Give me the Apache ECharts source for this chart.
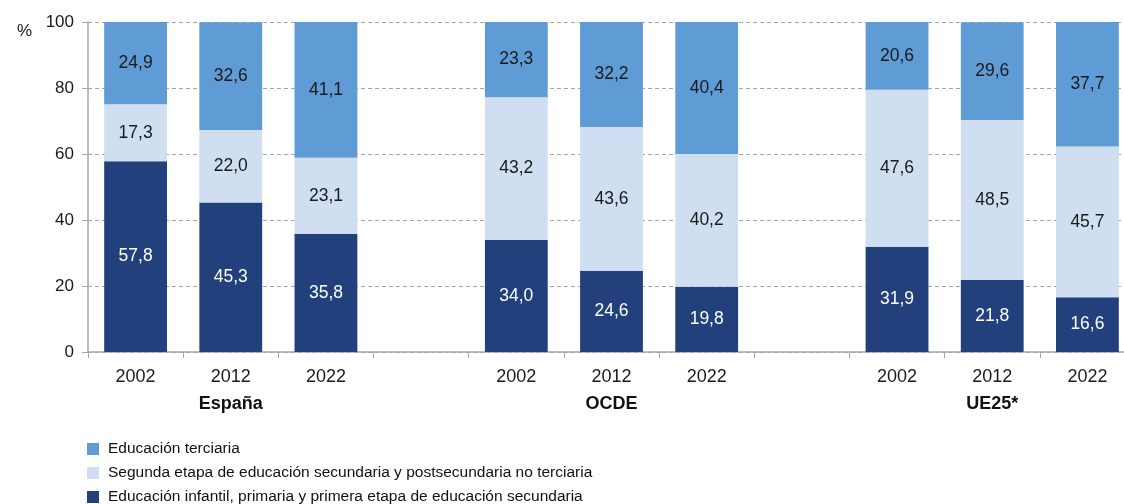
<!DOCTYPE html>
<html>
<head>
<meta charset="utf-8">
<script src="https://cdn.jsdelivr.net/npm/echarts@6/dist/echarts.min.js"></script>
<style>
  html, body { margin: 0; padding: 0; background: #fff; overflow: hidden; }
</style>
</head>
<body>
<!-- el grafico original esta recortado por la derecha y abajo: el lienzo sigue unos px fuera de la ventana -->
<div id="main" style="width: 1135px;height:520px;"></div>
<script type="text/javascript">
    // categorias: tres grupos con un hueco vacio entre ellos
    var years = ['2002', '2012', '2022', '', '2002', '2012', '2022', '', '2002', '2012', '2022'];
    var groups = ['', 'España', '', '', '', 'OCDE', '', '', '', 'UE25*', ''];
    var yTicks = [0, 20, 40, 60, 80, 100];

    var seriesNames = [
        'Educación infantil, primaria y primera etapa de educación secundaria',
        'Segunda etapa de educación secundaria y postsecundaria no terciaria',
        'Educación terciaria'
    ];
    var infantil   = [57.8, 45.3, 35.8, '-', 34.0, 24.6, 19.8, '-', 31.9, 21.8, 16.6];
    var secundaria = [17.3, 22.0, 23.1, '-', 43.2, 43.6, 40.2, '-', 47.6, 48.5, 45.7];
    var terciaria  = [24.9, 32.6, 41.1, '-', 23.3, 32.2, 40.4, '-', 20.6, 29.6, 37.7];

    var colors = ['#22417c', '#cfdef1', '#5f9bd4'];
    var labelColors = ['#ffffff', '#1a1a1a', '#1a1a1a'];
    var values = [infantil, secundaria, terciaria];

    var myChart = echarts.init(document.getElementById('main'));

    var fmt = function (p) {
        return p.value.toFixed(1).replace('.', ',');
    };

    var series = [];
    for (var i = 0; i < 3; i++) {
        series.push({
            name: seriesNames[i],
            type: 'bar',
            stack: 'total',
            barWidth: '66%',
            itemStyle: { color: colors[i] },
            label: {
                show: true,
                position: 'inside',
                color: labelColors[i],
                fontSize: 17.5,
                fontFamily: 'Liberation Sans',
                formatter: fmt
            },
            data: values[i]
        });
    }

    var option = {
        animation: false,
        title: {
            text: '%',
            left: 12,
            top: 18,
            textStyle: { fontSize: 17, fontWeight: 'normal', color: '#1a1a1a', fontFamily: 'Liberation Sans' }
        },
        grid: { left: 88, right: 0, top: 22, bottom: 168 },
        legend: {
            orient: 'vertical',
            left: 87,
            top: 441,
            padding: 0,
            itemWidth: 12,
            itemHeight: 12,
            itemGap: 8,
            icon: 'rect',
            data: [seriesNames[2], seriesNames[1], seriesNames[0]],
            textStyle: { fontSize: 15.5, color: '#111', fontFamily: 'Liberation Sans', padding: [0, 0, 0, 4] }
        },
        xAxis: {
            type: 'category',
            data: years,
            axisLine: { lineStyle: { color: '#a6a6a6', width: 1.5 } },
            axisTick: { show: true, interval: 0, length: 6, lineStyle: { color: '#a6a6a6' } },
            axisLabel: {
                interval: 0,
                margin: 12,
                fontSize: 18,
                color: '#1a1a1a',
                fontFamily: 'Liberation Sans',
                lineHeight: 27,
                formatter: function (value, index) {
                    if (groups[index]) {
                        return value + '\n{g|' + groups[index] + '}';
                    }
                    return value;
                },
                rich: {
                    g: { fontSize: 18, fontWeight: 'bold', color: '#111', fontFamily: 'Liberation Sans', lineHeight: 27 }
                }
            }
        },
        yAxis: {
            type: 'value',
            min: yTicks[0],
            max: yTicks[yTicks.length - 1],
            interval: 20,
            axisLine: { show: true, lineStyle: { color: '#a6a6a6', width: 1.5 } },
            axisTick: { show: true, length: 6, lineStyle: { color: '#a6a6a6' } },
            axisLabel: { fontSize: 17, color: '#1a1a1a', margin: 14, fontFamily: 'Liberation Sans' },
            splitLine: { lineStyle: { color: '#a6a6a6', type: [4, 3] } }
        },
        series: series
    };

    myChart.setOption(option);
</script>
</body>
</html>
